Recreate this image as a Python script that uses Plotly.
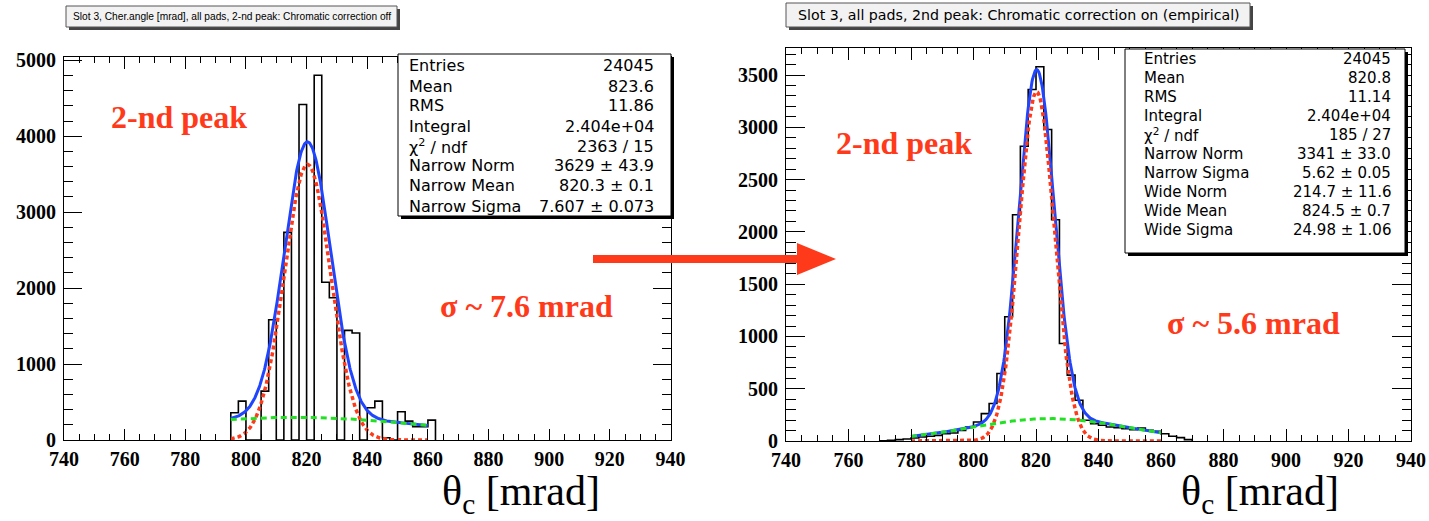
import numpy as np
import plotly.graph_objects as go

W, H = 1429, 521

# ---------------- data: Cherenkov angle, slot 3, all pads, 2nd peak ----------------
# chromatic correction off: 2.5 mrad bins starting at 795 mrad
off_first_edge = 795.0
off_bin_width = 2.5
off_counts = [358, 512, 0, 0, 643, 1584, 0, 2734, 0, 4418, 0, 4803, 2078, 1873,
              0, 1443, 1408, 0, 424, 512, 30, 0, 372, 249, 175, 175, 262]

# chromatic correction on (empirical): 2.5 mrad bins starting at 770 mrad
on_first_edge = 770.0
on_bin_width = 2.5
on_counts = [3, 6, 13, 19, 29, 38, 45, 54, 70, 77,
             102, 134, 182, 262, 358, 646, 1189, 2164, 2819, 3362,
             3580, 2979, 2116, 933, 630, 390, 198, 166, 150, 134,
             128, 118, 109, 125, 102, 93, 70, 45, 32, 13]

# fit parameters (narrow gaussian + wide gaussian)
off_narrow = (3629.0, 820.3, 7.607)
off_wide = (298.0, 816.0, 47.0)
off_fit_range = (795.0, 860.0)

on_narrow = (3341.0, 820.2, 5.62)
on_wide = (214.7, 824.5, 24.98)
on_fit_range = (780.0, 860.0)

off_stats = [("Entries", "24045"), ("Mean", "823.6"), ("RMS", "11.86"),
             ("Integral", "2.404e+04"), ("χ<sup>2</sup> / ndf", "2363 / 15"),
             ("Narrow Norm", "3629 ± 43.9"), ("Narrow Mean", "820.3 ± 0.1"),
             ("Narrow Sigma", "7.607 ± 0.073")]
on_stats = [("Entries", "24045"), ("Mean", "820.8"), ("RMS", "11.14"),
            ("Integral", "2.404e+04"), ("χ<sup>2</sup> / ndf", "185 / 27"),
            ("Narrow Norm", "3341 ± 33.0"), ("Narrow Sigma", "5.62 ± 0.05"),
            ("Wide Norm", "214.7 ± 11.6"), ("Wide Mean", "824.5 ± 0.7"),
            ("Wide Sigma", "24.98 ± 1.06")]

off_title = "Slot 3, Cher.angle [mrad], all pads, 2-nd peak: Chromatic correction off"
on_title = "Slot 3, all pads, 2nd peak: Chromatic correction on (empirical)"

RED = "#ff3a1a"
BLUE = "#1f45ff"
GREEN = "#22e022"
SERIF = "Liberation Serif, Times New Roman, serif"
SANS = "DejaVu Sans, sans-serif"


def px(x):
    return x / W


def py(y):
    return 1 - y / H


def gauss(x, norm, mean, sigma):
    return norm * np.exp(-0.5 * ((x - mean) / sigma) ** 2)


def step_outline(first_edge, width, counts):
    edges = first_edge + width * np.arange(len(counts) + 1)
    xs = [edges[0]] + list(edges[:-1]) + [edges[-1]]
    ys = [0] + list(counts) + [0]
    return xs, ys


fig = go.Figure()


def add_panel(xa, ya, first_edge, width, counts, narrow, wide, frange):
    hx, hy = step_outline(first_edge, width, counts)
    fig.add_trace(go.Scatter(x=hx, y=hy, mode="lines", line_shape="hv",
                             line=dict(color="black", width=1.6),
                             xaxis=xa, yaxis=ya, hoverinfo="skip"))
    xf = np.linspace(frange[0], frange[1], 400)
    n = gauss(xf, *narrow)
    w = gauss(xf, *wide)
    fig.add_trace(go.Scatter(x=xf, y=n + w, mode="lines",
                             line=dict(color=BLUE, width=3),
                             xaxis=xa, yaxis=ya, hoverinfo="skip"))
    fig.add_trace(go.Scatter(x=xf, y=n, mode="lines",
                             line=dict(color=RED, width=3.5, dash="4px,3px"),
                             xaxis=xa, yaxis=ya, hoverinfo="skip"))
    fig.add_trace(go.Scatter(x=xf, y=w, mode="lines",
                             line=dict(color=GREEN, width=3, dash="6px,4px"),
                             xaxis=xa, yaxis=ya, hoverinfo="skip"))


add_panel("x", "y", off_first_edge, off_bin_width, off_counts, off_narrow, off_wide, off_fit_range)
add_panel("x2", "y2", on_first_edge, on_bin_width, on_counts, on_narrow, on_wide, on_fit_range)

tickfont = dict(family=SERIF, size=20, color="black", weight="bold")


def xaxis_cfg(dom, anchor, ticklen):
    return dict(domain=dom, anchor=anchor, range=[740, 940], tick0=740, dtick=20,
                ticks="inside", ticklen=ticklen, tickcolor="black", tickwidth=1,
                minor=dict(ticks="inside", dtick=5, ticklen=ticklen / 2,
                           tickcolor="black", tickwidth=1),
                showline=True, linecolor="black", linewidth=1, mirror="allticks",
                showgrid=False, zeroline=False, tickfont=tickfont,
                ticklabelstandoff=1, automargin=False)


def yaxis_cfg(dom, anchor, top, dtick, minor, ticklen):
    return dict(domain=dom, anchor=anchor, range=[0, top], tick0=0, dtick=dtick,
                ticks="inside", ticklen=ticklen, tickcolor="black", tickwidth=1,
                minor=dict(ticks="inside", dtick=minor, ticklen=ticklen / 2,
                           tickcolor="black", tickwidth=1),
                showline=True, linecolor="black", linewidth=1, mirror="allticks",
                showgrid=False, zeroline=False, tickfont=tickfont,
                ticklabelstandoff=3, automargin=False)


shapes = []
annotations = []


def rect(x0, y0, x1, y1, fill, line=None, lw=1):
    shapes.append(dict(type="rect", xref="paper", yref="paper",
                       x0=px(x0), x1=px(x1), y0=py(y1), y1=py(y0),
                       fillcolor=fill, line=dict(color=line or fill, width=lw if line else 0),
                       layer="above"))


def text(x, y, s, size, family, color="black", xanchor="center", yanchor="middle"):
    annotations.append(dict(x=px(x), y=py(y), xref="paper", yref="paper", text=s,
                            showarrow=False, xanchor=xanchor, yanchor=yanchor,
                            font=dict(family=family, size=size, color=color)))


# title boxes
rect(69, 9, 400, 30, "#444444")
rect(66, 6, 397, 27, "#f2f2f2", "#555555")
text(232, 16.5, off_title, 10.2, "Liberation Sans, Arial, sans-serif")
rect(789, 6, 1253, 30, "#444444")
rect(786, 3, 1250, 27, "#f2f2f2", "#555555")
text(1019, 15, on_title, 14.2, SANS)

# stats boxes
rect(401, 57, 674, 219, "black")
rect(398, 54, 671, 216, "white", "black")
for i, (k, v) in enumerate(off_stats):
    yy = 66 + 20 * i
    text(407, yy, k, 16, SANS, xanchor="left")
    text(656, yy, v, 16, SANS, xanchor="right")

rect(1128, 52, 1408, 256, "black")
rect(1125, 49, 1405, 253, "white", "black")
for i, (k, v) in enumerate(on_stats):
    yy = 58.5 + 19.1 * i
    text(1142, yy, k, 15, SANS, xanchor="left")
    text(1393, yy, v, 15, SANS, xanchor="right")

# labels inside the frames
text(179, 117, "<b>2-nd peak</b>", 32, SERIF, RED)
text(526, 306, "<b>σ ~ 7.6 mrad</b>", 32, SERIF, RED)
text(904, 143, "<b>2-nd peak</b>", 32, SERIF, RED)
text(1253, 323, "<b>σ ~ 5.6 mrad</b>", 32, SERIF, RED)

# axis titles
text(521, 494, "θ<sub>c</sub> [mrad]", 42, SERIF)
text(1260, 494, "θ<sub>c</sub> [mrad]", 42, SERIF)

# arrow between the panels
shapes.append(dict(type="line", xref="paper", yref="paper",
                   x0=px(593), x1=px(802), y0=py(259), y1=py(259),
                   line=dict(color=RED, width=8), layer="above"))
shapes.append(dict(type="path", xref="paper", yref="paper",
                   path=f"M {px(797)} {py(243)} L {px(836)} {py(259)} L {px(797)} {py(275)} Z",
                   fillcolor=RED, line=dict(color=RED, width=0), layer="above"))

fig.update_layout(
    width=W, height=H, margin=dict(l=0, r=0, t=0, b=0, autoexpand=False),
    paper_bgcolor="white", plot_bgcolor="white", showlegend=False,
    xaxis=xaxis_cfg([px(64), px(670.5)], "y", 11.5),
    yaxis=yaxis_cfg([py(440), py(57)], "x", 5043, 1000, 200, 18),
    xaxis2=xaxis_cfg([px(786), px(1411)], "y2", 12),
    yaxis2=yaxis_cfg([py(441), py(48)], "x2", 3759, 500, 100, 19),
    shapes=shapes, annotations=annotations,
)

fig.write_html("out.html")
